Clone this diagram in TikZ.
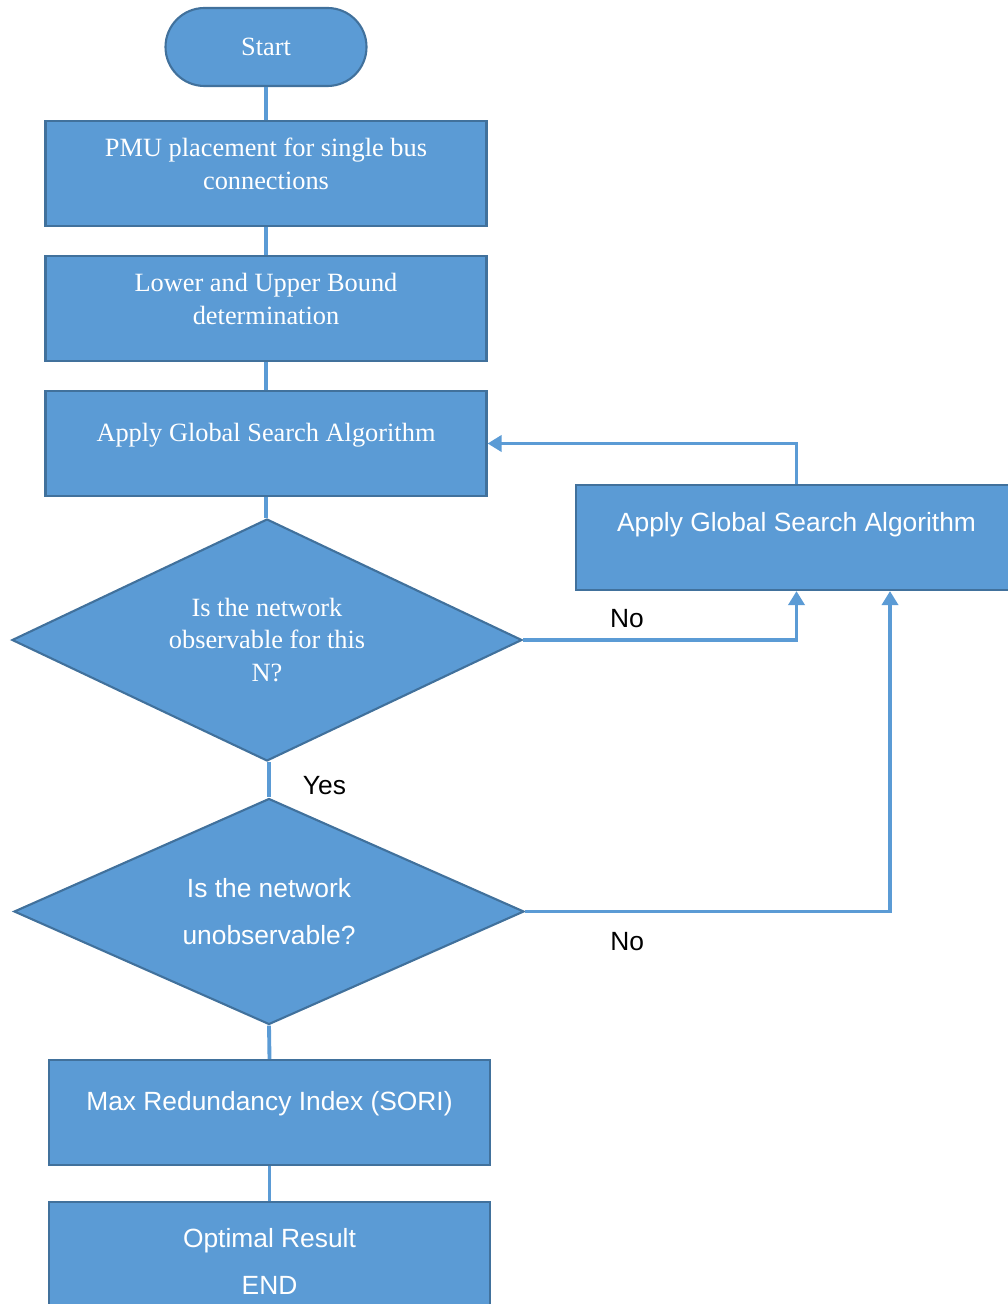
\documentclass[tikz,border=0pt]{standalone}
\usepackage{fontspec}
\setmainfont{Liberation Serif}
\setsansfont{Liberation Sans}
\usetikzlibrary{arrows.meta,positioning,calc,shapes.geometric}

\definecolor{boxblue}{HTML}{5B9BD5}
\definecolor{edgeblue}{HTML}{41719C}

\tikzset{
  box/.style={rectangle, draw=edgeblue, line width=1.2pt, fill=boxblue, text=white,
    minimum width=88.2mm, minimum height=21mm, inner sep=1mm, align=center,
    font=\fontsize{15}{18.7}\selectfont},
  twoline/.style={box, text depth=4mm},
  sbox/.style={box, font=\sffamily\fontsize{15}{26.6}\selectfont},
  decision/.style={box, diamond, inner sep=0pt, aspect=2},
  flow/.style={draw=boxblue, line width=2.2pt},
  tip/.style={-{Triangle[width=3.2mm,length=2.8mm]}},
  answer/.style={font=\sffamily\fontsize{15}{18}\selectfont, text=black}
}

\begin{document}
\begin{tikzpicture}[x=0.2mm, y=-0.2mm]
    \useasboundingbox (0,0) rectangle (1007,1304);
    % main column
    \node[box, minimum width=40.2mm, minimum height=15.6mm, rounded corners=7.8mm] (start) at (266,47) {Start};
    \node[twoline] (pmu) at (266,173.5) {PMU placement for single bus\\connections};
    \node[twoline] (bound) at (266,308.5) {Lower and Upper Bound\\determination};
    \node[box, text height=3.5mm, text depth=4.5mm] (gsa) at (266,443.5) {Apply Global Search Algorithm};
    \node[decision, minimum width=102mm, minimum height=48.4mm] (obs) at (267,640) {Is the network\\observable for this\\N?};
    \node[decision, minimum width=102mm, minimum height=45.2mm, font=\sffamily\fontsize{15}{26.6}\selectfont] (unobs) at (269,911.5) {Is the network\\unobservable?};
    \node[sbox, text height=3.5mm, text depth=4.3mm] (maxr) at (269.5,1112.5) {Max Redundancy Index (SORI)};
    \node[sbox, minimum height=23.8mm] (opt) at (269.5,1261.5) {Optimal Result\\END};
    % side box
    \node[sbox, text height=3.5mm, text depth=5.9mm] (gsar) at (796.5,537.5) {Apply Global Search Algorithm};

    \draw[flow] (start) -- (pmu);
    \draw[flow] (pmu) -- (bound);
    \draw[flow] (bound) -- (gsa);
    \draw[flow] (gsa.south) -- (gsa.south |- obs.north);
    \draw[flow] (unobs.north |- obs.south) -- node[answer, pos=0.67, right, inner sep=0pt, xshift=6.4mm] (yes) {Yes} (unobs.north);
    \draw[flow] (unobs.south) -- (maxr.north);
    \draw[flow] (maxr) -- (opt);

    % loops back
    \draw[flow, tip] (obs.east) -| node[answer, pos=0.19, above, inner sep=2.1mm] (no1) {No} (gsar.south);
    \draw[flow, tip] (gsar.north) |- (gsa.east);
    \coordinate (in2) at ($(gsar.south)+(93.5,0)$);
    \draw[flow, tip] (unobs.east) -| node[answer, pos=0.14, below, inner sep=3.7mm] (no2) {No} (in2);
\end{tikzpicture}
\end{document}
